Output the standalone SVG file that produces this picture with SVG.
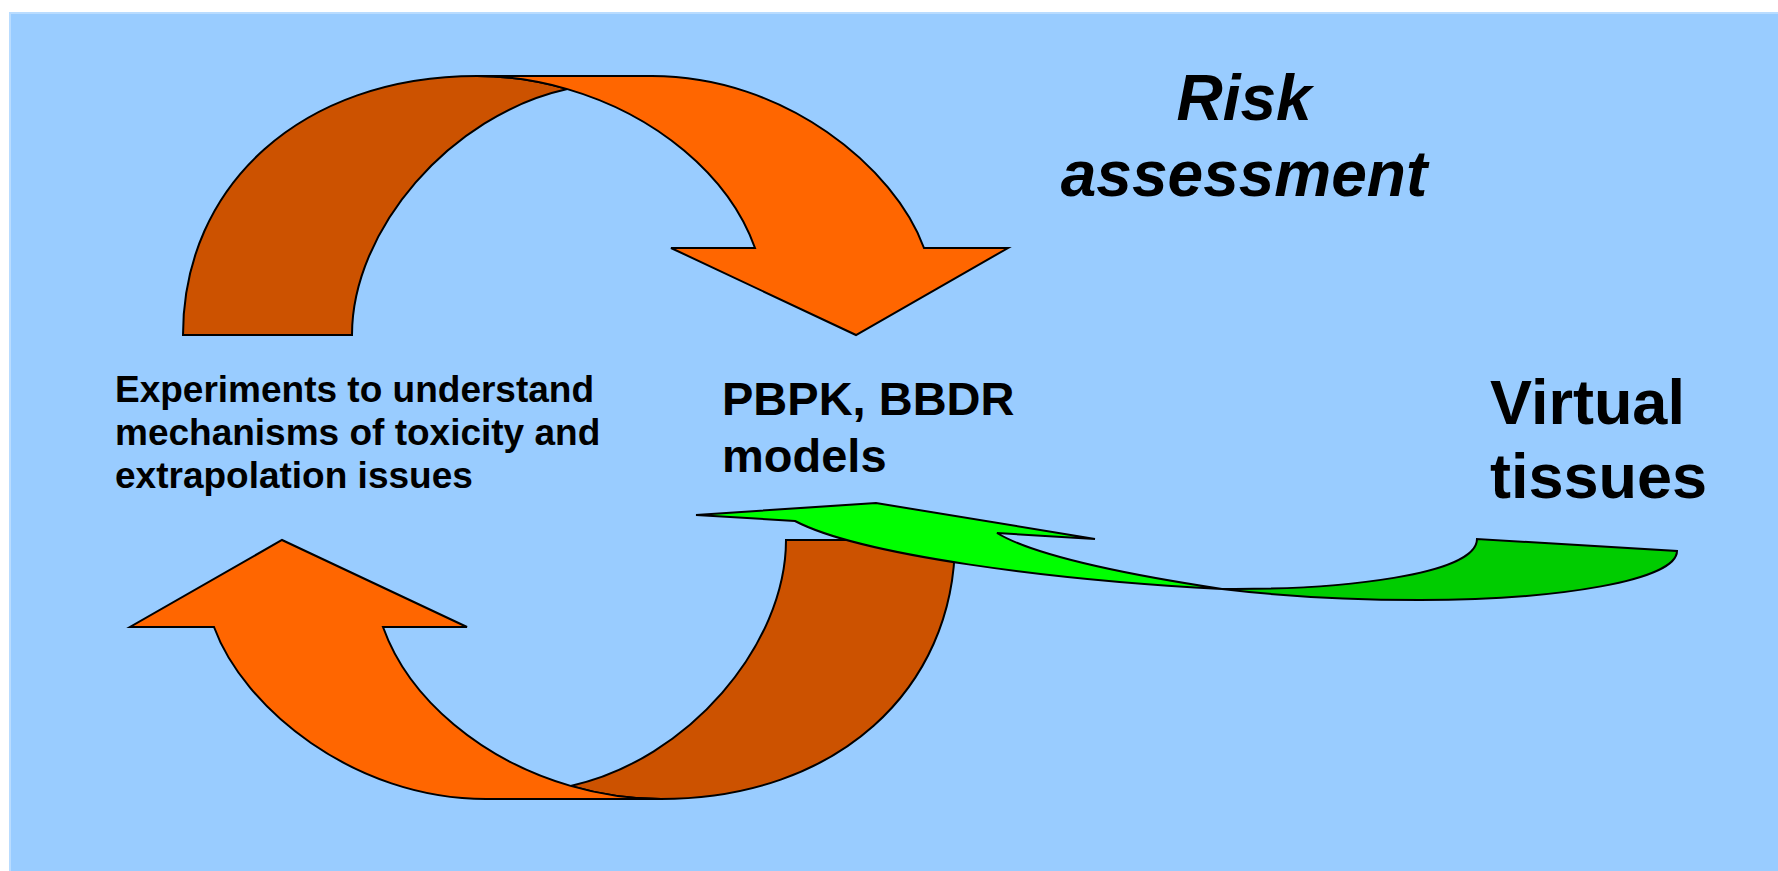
<svg xmlns="http://www.w3.org/2000/svg" width="1778" height="871" viewBox="0 0 1778 871">
<style>
.bg{fill:#99CCFF;stroke:#B9DCFF;stroke-width:2}
.sh{stroke:#000;stroke-width:2;stroke-linejoin:miter}
.front{fill:#FF6600}
.back{fill:#CC5200}
.lime{fill:#00FF00}
.dg{fill:#00CC00}
.t{font-family:"Liberation Sans",Arial,Helvetica,sans-serif;font-weight:bold;fill:#000}
</style>
<rect class="bg" x="10" y="13" width="1790" height="880"/>
<g id="connectors">
  <g id="top-arrow">
    <path class="sh back" d="M183,335 C183,185 302,76 477,76 C507.75,76 538.3,80.6 567.4,89.1 C450,115 352,230 352,335 Z"/>
    <path class="sh front" d="M477,76 L652,76 C785,76 895,168 924,248 L1008,248 L856,335 L671,248 L755,248 C728.75,174.5 654.7,114.5 567.4,89.1 C538.3,80.6 507.75,76 477,76 Z"/>
  </g>
  <g id="bottom-arrow" transform="rotate(180 569 437.5)">
    <path class="sh back" d="M183,335 C183,185 302,76 477,76 C507.75,76 538.3,80.6 567.4,89.1 C450,115 352,230 352,335 Z"/>
    <path class="sh front" d="M477,76 L652,76 C785,76 895,168 924,248 L1008,248 L856,335 L671,248 L755,248 C728.75,174.5 654.7,114.5 567.4,89.1 C538.3,80.6 507.75,76 477,76 Z"/>
  </g>
  <g id="green-arrow">
    <path class="sh dg" d="M1222,589 C1340,590 1477,575 1477,539 L1677,551 C1677,580 1560,600 1420,600 C1340,600 1280,596 1222,589 Z"/>
    <path class="sh lime" d="M696,515 L876,503 L1095,539 L997,533 C1030,553 1110,572 1222,589 C1050,580 860,555 795,521 Z"/>
  </g>
</g>
<g id="risk-assessment">
  <text class="t" font-size="64" font-style="italic" text-anchor="middle" x="1244" y="120">Risk</text>
  <text class="t" font-size="64" font-style="italic" text-anchor="middle" x="1244" y="196">assessment</text>
</g>
<g id="experiments">
  <text class="t" font-size="37" x="115" y="402">Experiments to understand</text>
  <text class="t" font-size="37" x="115" y="445">mechanisms of toxicity and</text>
  <text class="t" font-size="37" x="115" y="488">extrapolation issues</text>
</g>
<g id="models">
  <text class="t" font-size="47" x="722" y="415">PBPK, BBDR</text>
  <text class="t" font-size="47" x="722" y="472">models</text>
</g>
<g id="virtual-tissues">
  <text class="t" font-size="63" x="1490" y="424">Virtual</text>
  <text class="t" font-size="63" x="1490" y="498">tissues</text>
</g>
</svg>
